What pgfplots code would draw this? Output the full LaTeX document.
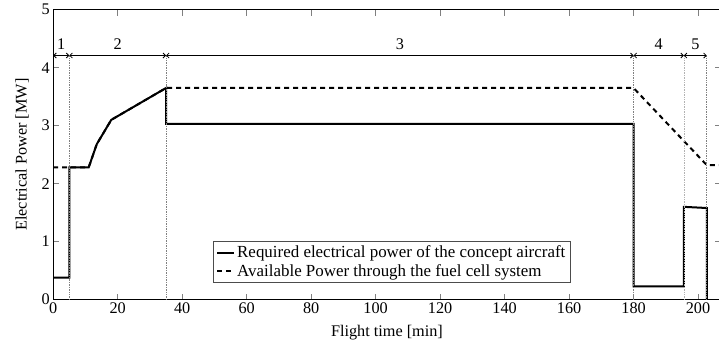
\documentclass[border=0pt]{standalone}
\usepackage{pgfplots}
\pgfplotsset{compat=1.18}
\usepackage{fontspec}
\setmainfont{Liberation Serif}
\usetikzlibrary{arrows.meta}
\begin{document}
\begin{tikzpicture}[font=\fontsize{16.3}{19}\selectfont]
\begin{axis}[
  scale only axis,
  width=667.6bp, height=290bp,
  xmin=0, xmax=207, ymin=0, ymax=5,
  xtick={0,20,...,200}, ytick={0,1,...,5},
  /pgf/number format/assume math mode=true,
  tick style={gray, line width=0.8bp},
  major tick length=6bp,
  axis line style={line width=1.1bp},
  xlabel={Flight time [min]},
  ylabel={Electrical Power [MW]},
  xlabel style={yshift=-4bp},
  ylabel style={yshift=6bp},
  legend cell align=left,
  legend style={at={(axis cs:105,0.65)}, anchor=center, draw=black!70, line width=0.8bp, inner sep=3bp, row sep=1bp, font=\fontsize{17}{20}\selectfont},
]
\addplot[black, line width=2bp, sharp plot] coordinates {
 (0,0.38) (5,0.38) (5,2.28) (11,2.28) (13.5,2.68) (18,3.1) (35,3.65) (35,3.03)
 (180,3.03) (180,0.23) (195.6,0.23) (195.6,1.6) (202.7,1.58) (202.7,0)
};
\addlegendentry{Required electrical power of the concept aircraft}
\addplot[black, line width=2bp, dash pattern=on 5bp off 4bp, sharp plot] coordinates {
 (0,2.28) (11,2.28) (13.5,2.68) (18,3.1) (35,3.65) (180,3.65) (202.7,2.32) (210,2.32)
};
\addlegendentry{Available Power through the fuel cell system}
% phase markers
\draw[gray, densely dotted, line width=0.7bp] (axis cs:5,0) -- (axis cs:5,4.21);
\draw[gray, densely dotted, line width=0.7bp] (axis cs:35,0) -- (axis cs:35,4.21);
\draw[gray, densely dotted, line width=0.7bp] (axis cs:180,0) -- (axis cs:180,4.21);
\draw[gray!60, densely dotted, line width=0.7bp] (axis cs:195.6,0) -- (axis cs:195.6,4.21);
\draw[gray, densely dotted, line width=0.7bp] (axis cs:202.7,0) -- (axis cs:202.7,4.21);
\draw[line width=0.8bp, {Straight Barb[length=2.5bp]}-{Straight Barb[length=2.5bp]}] (axis cs:0,4.21) -- (axis cs:5,4.21);
\draw[line width=0.8bp, {Straight Barb[length=2.5bp]}-{Straight Barb[length=2.5bp]}] (axis cs:5,4.21) -- (axis cs:35,4.21);
\draw[line width=0.8bp, {Straight Barb[length=2.5bp]}-{Straight Barb[length=2.5bp]}] (axis cs:35,4.21) -- (axis cs:180,4.21);
\draw[line width=0.8bp, {Straight Barb[length=2.5bp]}-{Straight Barb[length=2.5bp]}] (axis cs:180,4.21) -- (axis cs:195.6,4.21);
\draw[line width=0.8bp, {Straight Barb[length=2.5bp]}-{Straight Barb[length=2.5bp]}] (axis cs:195.6,4.21) -- (axis cs:202.7,4.21);
\node at (axis cs:2.5,4.40) {1};
\node at (axis cs:20,4.40) {2};
\node at (axis cs:107.5,4.40) {3};
\node at (axis cs:187.8,4.40) {4};
\node at (axis cs:199.2,4.40) {5};
\coordinate (cropR) at (axis cs:206.5,0);
\end{axis}
\pgfresetboundingbox
\path ([xshift=-12bp, yshift=-1bp]current axis.outer south west) rectangle ([yshift=1bp]cropR |- current axis.outer north east);
\end{tikzpicture}
\end{document}
